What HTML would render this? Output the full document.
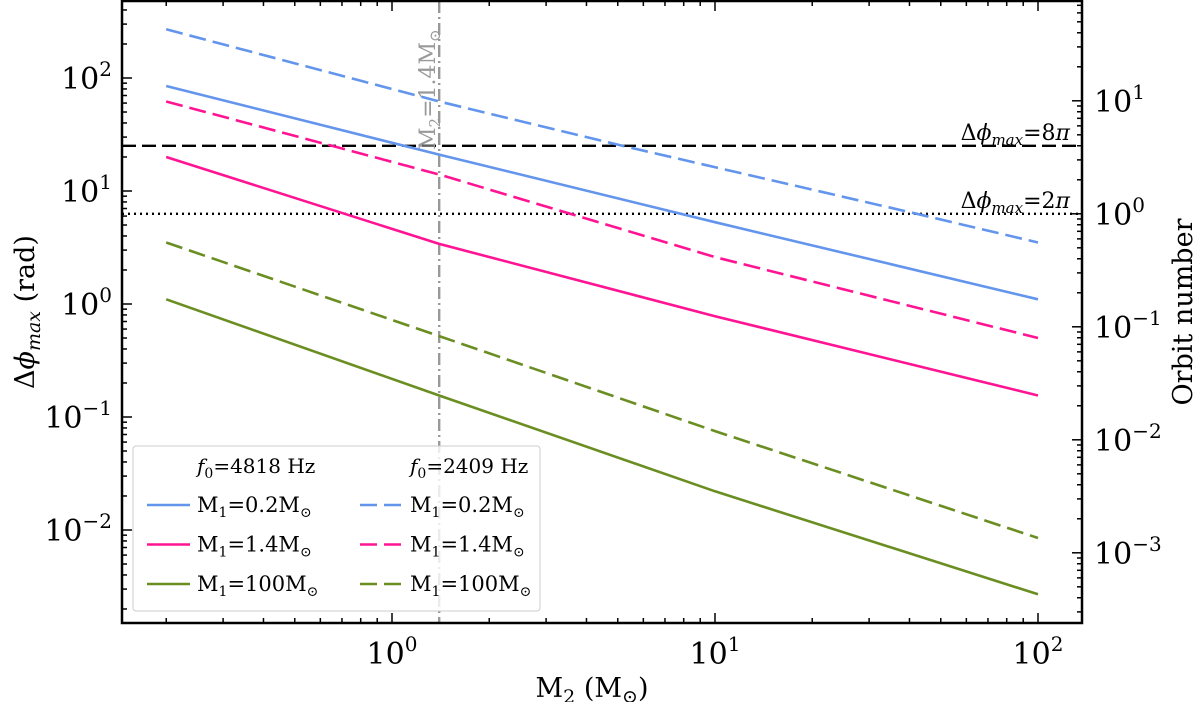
<!DOCTYPE html>
<html><head><meta charset="utf-8"><style>
body{margin:0;background:#fff}
svg{display:block;font-family:"DejaVu Serif","Liberation Serif",serif}
</style></head><body>
<svg id="chart" width="1200" height="702">
<g id="g"></g>
</svg>
<script>
const m2Values=[0.2,1.4,10,100];
const blueSolid=[85,21,5.3,1.1];
const pinkSolid=[20,3.4,0.78,0.155];
const greenSolid=[1.1,0.155,0.022,0.0027];
const blueDashedX=[0.2,1.4,5.2,42,100];
const blueDashed=[270,62,25,6.3,3.5];
const pinkDashed=[62,14,2.6,0.5];
const greenDashed=[3.5,0.52,0.075,0.0085];
const xTickLabels=["0","1","2"];
const yTickExps=[-2,-1,0,1,2];
const rTickExps=[-3,-2,-1,0,1];
const thresholds=[8*Math.PI,2*Math.PI];

const L=122,R=1082,T=1,B=623;
const X=v=>392+323*Math.log10(v);
const Y=v=>78+113*(2-Math.log10(v));
const NS="http://www.w3.org/2000/svg";
const g=document.getElementById('g');
function el(t,a,p){const e=document.createElementNS(NS,t);for(const k in a)e.setAttribute(k,a[k]);(p||g).appendChild(e);return e;}

let h1=el('line',{x1:L,x2:R,y1:Y(thresholds[0]),y2:Y(thresholds[0]),stroke:'#000','stroke-width':2.4,'stroke-dasharray':'14,6'});


let h2=el('line',{x1:L,x2:R,y1:Y(thresholds[1]),y2:Y(thresholds[1]),stroke:'#000','stroke-width':2.4,'stroke-dasharray':'2,4'});


let t1=el('text',{x:1070,y:Y(thresholds[0])-6,'text-anchor':'end','font-size':22});
t1.innerHTML='Δ<tspan font-style="italic">ϕ</tspan><tspan font-size="15" dy="5" font-style="italic">max</tspan><tspan dy="-5">=8</tspan><tspan font-style="italic">π</tspan>';


let t2=el('text',{x:1070,y:Y(thresholds[1])-6,'text-anchor':'end','font-size':22});
t2.innerHTML='Δ<tspan font-style="italic">ϕ</tspan><tspan font-size="15" dy="5" font-style="italic">max</tspan><tspan dy="-5">=2</tspan><tspan font-style="italic">π</tspan>';



let vl=el('line',{x1:X(1.4),x2:X(1.4),y1:T,y2:B,stroke:'#999','stroke-width':2.4,'stroke-dasharray':'12,4,2,4'});


let vt=el('text',{x:0,y:0,fill:'#999','font-size':22,transform:`translate(${X(1.4)-4},${150}) rotate(-90)`});
vt.innerHTML='M<tspan font-size="15" dy="5">2</tspan><tspan dy="-5">=1.4M</tspan><tspan font-size="15" dy="5">⊙</tspan>';



function series(xs,ys,color,dash,name){
  const d=xs.map((x,i)=>(i?'L':'M')+X(x).toFixed(1)+','+Y(ys[i]).toFixed(1)).join('');
  const p=el('path',{d,fill:'none',stroke:color,'stroke-width':2.6,'stroke-dasharray':dash||'none'});
  
  
}
series(m2Values,blueSolid,'#6495ed','','line-blue-4818');
series(m2Values,pinkSolid,'#ff1493','','line-pink-4818');
series(m2Values,greenSolid,'#6b8e23','','line-green-4818');
series(blueDashedX,blueDashed,'#6495ed','17,7','line-blue-2409');
series(m2Values,pinkDashed,'#ff1493','17,7','line-pink-2409');
series(m2Values,greenDashed,'#6b8e23','17,7','line-green-2409');

let fr=el('rect',{x:L,y:T,width:R-L,height:B-T,fill:'none',stroke:'#000','stroke-width':2.5});



for(let e=-1;e<=2;e++){for(let k=1;k<10;k++){const v=k*Math.pow(10,e);const x=X(v);if(x<L||x>R)continue;const len=k==1?10:5;
el('line',{x1:x,x2:x,y1:B,y2:B-len,stroke:'#000','stroke-width':1.5});el('line',{x1:x,x2:x,y1:T,y2:T+len,stroke:'#000','stroke-width':1.5});}}
xTickLabels.forEach(s=>{const x=X(Math.pow(10,+s));const t=el('text',{x:x,y:664,'text-anchor':'middle','font-size':30});t.innerHTML='10<tspan font-size="20" dy="-13">'+s+'</tspan>';

});
for(let e=-3;e<=2;e++){for(let k=1;k<10;k++){const v=k*Math.pow(10,e);const y=Y(v);if(y<T||y>B)continue;const len=k==1?10:5;el('line',{x1:L,x2:L+len,y1:y,y2:y,stroke:'#000','stroke-width':1.5});}}
yTickExps.forEach(s=>{const t=el('text',{x:112,y:Y(Math.pow(10,s))+11,'text-anchor':'end','font-size':30});t.innerHTML='10<tspan font-size="20" dy="-13">'+(s<0?'−'+(-s):s)+'</tspan>';

});
const Yr=o=>Y(o*2*Math.PI);
for(let e=-4;e<=2;e++){for(let k=1;k<10;k++){const v=k*Math.pow(10,e);const y=Yr(v);if(y<T||y>B)continue;const len=k==1?10:5;el('line',{x1:R,x2:R-len,y1:y,y2:y,stroke:'#000','stroke-width':1.5});}}
rTickExps.forEach(s=>{const t=el('text',{x:1094,y:Yr(Math.pow(10,s))+11,'font-size':30});t.innerHTML='10<tspan font-size="20" dy="-13">'+(s<0?'−'+(-s):s)+'</tspan>';

});

let xt=el('text',{x:592,y:697,'text-anchor':'middle','font-size':27});xt.innerHTML='M<tspan font-size="19" dy="6">2</tspan><tspan dy="-6"> (M</tspan><tspan font-size="19" dy="6">⊙</tspan><tspan dy="-6">)</tspan>';


let yt=el('text',{x:0,y:0,'text-anchor':'middle','font-size':27,transform:'translate(34,312) rotate(-90)'});yt.innerHTML='Δ<tspan font-style="italic">ϕ</tspan><tspan font-size="19" dy="6" font-style="italic">max</tspan><tspan dy="-6"> (rad)</tspan>';


let rt=el('text',{x:0,y:0,'text-anchor':'middle','font-size':27,transform:'translate(1192,312) rotate(-90)'});rt.textContent='Orbit number';



const lg=el('g',{});


el('rect',{x:133,y:446,width:407,height:165,rx:3,fill:'#fff','fill-opacity':0.8,stroke:'#ccc','stroke-width':1},lg);
const hdr=[[197,'4818'],[410,'2409']];
hdr.forEach(h=>{const t=el('text',{x:h[0],y:473,'font-size':20},lg);t.innerHTML='<tspan font-style="italic">f</tspan><tspan font-size="14" dy="5">0</tspan><tspan dy="-5">='+h[1]+' Hz</tspan>';

});
const rows=[['#6495ed','0.2'],['#ff1493','1.4'],['#6b8e23','100']];
rows.forEach((r,i)=>{const y=505+i*39.5;[[147,''],[360,'17,7']].forEach(c=>{
el('line',{x1:c[0],x2:c[0]+43,y1:y,y2:y,stroke:r[0],'stroke-width':2.6,'stroke-dasharray':c[1]||'none'},lg);
const t=el('text',{x:c[0]+50,y:y+7,'font-size':21},lg);t.innerHTML='M<tspan font-size="14" dy="5">1</tspan><tspan dy="-5">='+r[1]+'M</tspan><tspan font-size="14" dy="5">⊙</tspan>';

});});
</script>
</body></html>
